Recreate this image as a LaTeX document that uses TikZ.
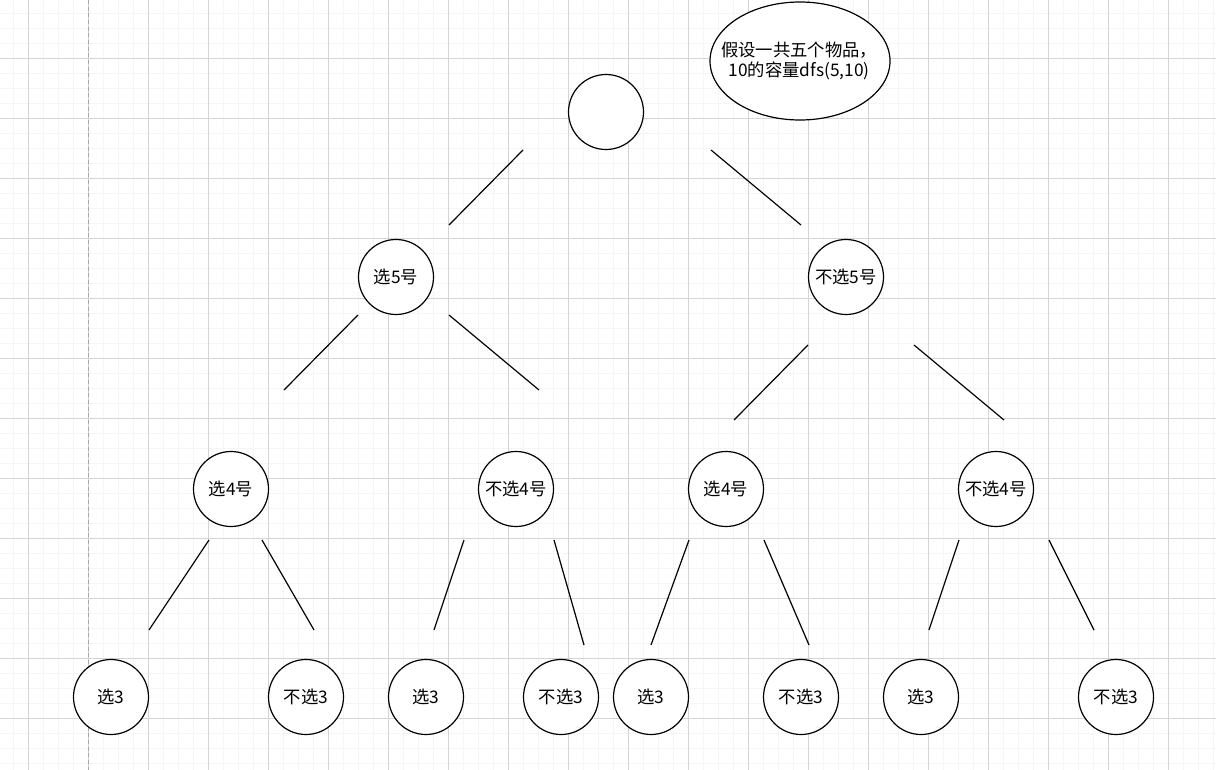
\documentclass[tikz,border=0pt]{standalone}
\usepackage{fontspec}
\setmainfont{Noto Sans CJK SC}
\begin{document}
\begin{tikzpicture}[x=0.75pt,y=-0.75pt,
  ball/.style={draw,circle,minimum size=56.25pt,inner sep=0pt,line width=0.9pt,fill=white,font=\fontsize{13}{15}\selectfont},
  edge/.style={line width=0.9pt}]
\useasboundingbox[fill=white] (0,0) rectangle (1216,770);
% grid
\foreach \x in {13.5,28.5,...,1216} \draw[black!4,line width=0.75pt] (\x,0) -- (\x,770);
\foreach \y in {13.5,28.5,...,770} \draw[black!4,line width=0.75pt] (0,\y) -- (1216,\y);
\foreach \x in {28.5,88.5,...,1216} \draw[black!17,line width=0.75pt] (\x,0) -- (\x,770);
\foreach \y in {-1.5,58.5,...,770} \draw[black!17,line width=0.75pt] (0,\y) -- (1216,\y);
\draw[black!35,line width=0.75pt,dash pattern=on 3pt off 2pt] (88.5,0) -- (88.5,770);

\draw[line width=0.9pt,fill=white] (800,61) ellipse [x radius=67.5pt,y radius=44.25pt];
\node[inner sep=0pt,align=center,font=\fontsize{13}{15}\selectfont] (note) at (799,61) {假设一共五个物品，\\10的容量dfs(5,10)};
\node[ball] (root) at (606,112) {};
\node[ball] (s5) at (396,277) {选5号};
\node[ball] (n5) at (846,277) {不选5号};
\node[ball] (s5s4) at (231,489) {选4号};
\node[ball] (s5n4) at (516,489) {不选4号};
\node[ball] (n5s4) at (726,489) {选4号};
\node[ball] (n5n4) at (996,489) {不选4号};
\node[ball] (a1) at (111,697) {选3};
\node[ball] (a2) at (306,697) {不选3};
\node[ball] (b1) at (426,697) {选3};
\node[ball] (b2) at (561,697) {不选3};
\node[ball] (c1) at (651,697) {选3};
\node[ball] (c2) at (801,697) {不选3};
\node[ball] (d1) at (921,697) {选3};
\node[ball] (d2) at (1116,697) {不选3};

% free line ends
\coordinate (root-l) at (523,150); \coordinate (s5-t) at (449,225);
\coordinate (root-r) at (711,150); \coordinate (n5-t) at (801,225);
\coordinate (s5-l) at (358,315); \coordinate (s5s4-t) at (284,390);
\coordinate (s5-r) at (449,315); \coordinate (s5n4-t) at (539,390);
\coordinate (n5-l) at (808,345); \coordinate (n5s4-t) at (734,420);
\coordinate (n5-r) at (914,345); \coordinate (n5n4-t) at (1004,420);
\coordinate (s5s4-l) at (209,540); \coordinate (a1-t) at (149,630);
\coordinate (s5s4-r) at (262,540); \coordinate (a2-t) at (314,630);
\coordinate (s5n4-l) at (464,540); \coordinate (b1-t) at (434,630);
\coordinate (s5n4-r) at (554,540); \coordinate (b2-t) at (584,645);
\coordinate (n5s4-l) at (689,540); \coordinate (c1-t) at (651,645);
\coordinate (n5s4-r) at (764,540); \coordinate (c2-t) at (809,645);
\coordinate (n5n4-l) at (959,540); \coordinate (d1-t) at (929,630);
\coordinate (n5n4-r) at (1049,540); \coordinate (d2-t) at (1094,630);

\draw[edge] (root-l) -- (s5-t);
\draw[edge] (root-r) -- (n5-t);
\draw[edge] (s5-l) -- (s5s4-t);
\draw[edge] (s5-r) -- (s5n4-t);
\draw[edge] (n5-l) -- (n5s4-t);
\draw[edge] (n5-r) -- (n5n4-t);
\draw[edge] (s5s4-l) -- (a1-t);
\draw[edge] (s5s4-r) -- (a2-t);
\draw[edge] (s5n4-l) -- (b1-t);
\draw[edge] (s5n4-r) -- (b2-t);
\draw[edge] (n5s4-l) -- (c1-t);
\draw[edge] (n5s4-r) -- (c2-t);
\draw[edge] (n5n4-l) -- (d1-t);
\draw[edge] (n5n4-r) -- (d2-t);
\end{tikzpicture}
\end{document}
